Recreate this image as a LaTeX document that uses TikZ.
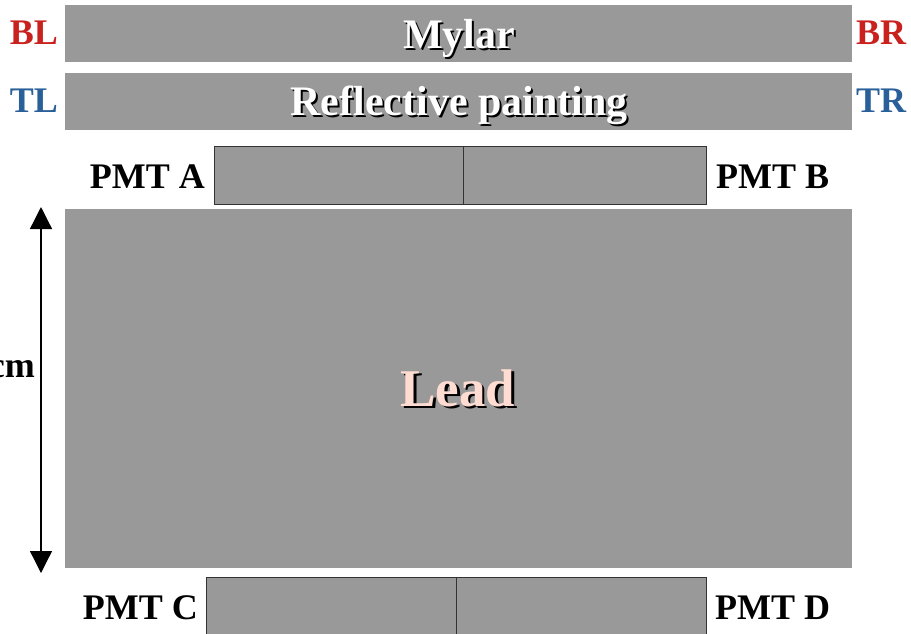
\documentclass[tikz,border=0pt]{standalone}
\usepackage{fontspec}
\setmainfont{Liberation Serif}
\usetikzlibrary{arrows.meta,calc}
\definecolor{slab}{HTML}{999999}
\definecolor{edgegray}{HTML}{333333}
\definecolor{redlab}{HTML}{C9211E}
\definecolor{bluelab}{HTML}{2A6099}
\definecolor{leadpink}{HTML}{FFDCD2}
\tikzset{
  layer/.style={fill=slab, draw=none, inner sep=0, anchor=north west},
  pmtbox/.style={fill=slab, draw=edgegray, line width=0.9pt, inner sep=0, anchor=north west,
                 minimum height=58pt},
  side/.style={font=\bfseries\fontsize{36}{42}\selectfont, inner sep=0},
  title/.style={font=\bfseries\fontsize{42}{48}\selectfont, inner sep=0, anchor=base},
  bigtitle/.style={font=\bfseries\fontsize{53}{60}\selectfont, inner sep=0, anchor=base},
}
\begin{document}
\begin{tikzpicture}[x=1pt, y=-1pt]
  \useasboundingbox (0,0) rectangle (911,633);

  % stacked layers
  \node[layer, minimum width=787pt, minimum height=57pt] (mylar) at (65,5) {};
  \node[layer, minimum width=787pt, minimum height=57pt] (paint) at (65,73) {};
  \node[layer, minimum width=787pt, minimum height=359pt] (lead) at (65,209) {};

  % photomultiplier pairs
  \node[pmtbox, minimum width=249pt] (pmta) at (214,146) {};
  \node[pmtbox, minimum width=243pt] (pmtb) at (463,146) {};
  \node[pmtbox, minimum width=250pt] (pmtc) at (206,577) {};
  \node[pmtbox, minimum width=250pt] (pmtd) at (456,577) {};

  % layer titles with drop shadow
  \coordinate (cmylar) at (459,48);
  \coordinate (cpaint) at (459,115);
  \coordinate (clead) at (458,406);
  \node[title, text=black] at ($(cmylar)+(2,2)$) {Mylar};
  \node[title, text=white] (tmylar) at (cmylar) {Mylar};
  \node[title, text=black] at ($(cpaint)+(2,2)$) {Reflective painting};
  \node[title, text=white] (tpaint) at (cpaint) {Reflective painting};
  \node[bigtitle, text=black] at ($(clead)+(2.5,2.5)$) {Lead};
  \node[bigtitle, text=leadpink] (tlead) at (clead) {Lead};

  % corner labels
  \node[side, text=redlab, anchor=base east] (bl) at (58,44) {BL};
  \node[side, text=redlab, anchor=base west] (br) at (856,44) {BR};
  \node[side, text=bluelab, anchor=base east] (tl) at (58,112) {TL};
  \node[side, text=bluelab, anchor=base west] (tr) at (856,112) {TR};

  % PMT labels
  \node[side, anchor=base east] (la) at (205,188) {PMT A};
  \node[side, anchor=base west] (lb) at (716,188) {PMT B};
  \node[side, anchor=base east] (lc) at (198,619) {PMT C};
  \node[side, anchor=base west] (ld) at (715,619) {PMT D};

  % height of the lead block
  \coordinate (htop) at (41,207);
  \coordinate (hbot) at (41,573);
  \draw[line width=1.3pt, {Triangle[width=22pt,length=22pt]}-{Triangle[width=22pt,length=22pt]}] (htop) -- (hbot);
  \node[side, anchor=base east] (hlabel) at (35,377) {cm};
\end{tikzpicture}
\end{document}
